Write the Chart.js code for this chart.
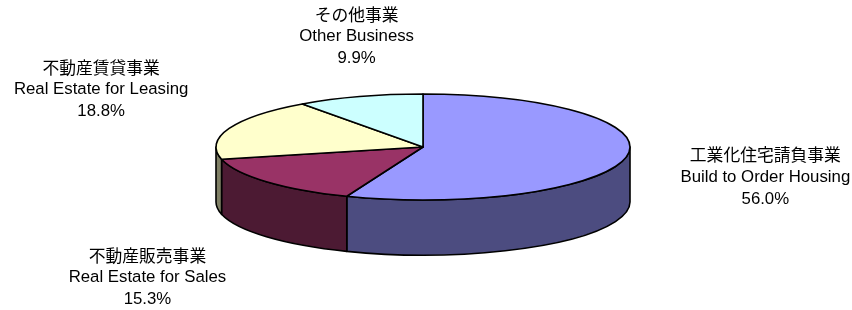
<!DOCTYPE html>
<html>
<head>
<meta charset="utf-8">
<script src="https://cdn.jsdelivr.net/npm/chart.js@4.4.1/dist/chart.umd.min.js"></script>
<style>
  html, body { margin: 0; padding: 0; background: #fff; }
  #wrap { width: 852px; height: 310px; position: relative; }
</style>
</head>
<body>
<div id="wrap"><canvas id="pieChart"></canvas></div>
<script>
// ===== Data =====
const labelsJa = ['工業化住宅請負事業', '不動産販売事業', '不動産賃貸事業', 'その他事業'];
const labelsEn = ['Build to Order Housing', 'Real Estate for Sales', 'Real Estate for Leasing', 'Other Business'];
const shares = [56.0, 15.3, 18.8, 9.9];

// ===== Style =====
const topColors = ['#9999FF', '#993366', '#FFFFCC', '#CCFFFF'];
const sideColors = ['#4C4C80', '#4C1A33', '#808066', '#668080'];
// label offset from the slice's mid-angle rim point to the label's middle line
const labelOffsets = [[139, 20], [-119, 96], [-128, -39], [-3, -60]];
const depthRatio = 1.04; // wall height relative to vertical radius
const latinFont = '16.8px "Liberation Sans", Arial, sans-serif';
const cjkFont = '16.8px "Noto Sans CJK JP", sans-serif';
const lineGap = 22;

// ===== 3D pie plugin =====
const pie3d = {
  id: 'pie3d',
  beforeDatasetsDraw(chart) {
    const ctx = chart.ctx;
    const meta = chart.getDatasetMeta(0);
    const area = chart.chartArea;
    const arcs = meta.data;
    if (!arcs.length) return false;
    const cx = arcs[0].x;
    const cy = arcs[0].y;
    const ry = arcs[0].outerRadius;
    const rx = (area.right - area.left) / 2;
    const depth = ry * depthRatio;

    ctx.save();
    ctx.lineWidth = 1.6;
    ctx.strokeStyle = '#000';
    ctx.lineJoin = 'round';

    // front walls (visible half: angle 0..PI)
    arcs.forEach((arc, i) => {
      const s = Math.max(arc.startAngle, 0);
      const e = Math.min(arc.endAngle, Math.PI);
      if (e <= s) return;
      ctx.beginPath();
      ctx.ellipse(cx, cy, rx, ry, 0, s, e, false);
      ctx.lineTo(cx + rx * Math.cos(e), cy + depth + ry * Math.sin(e));
      ctx.ellipse(cx, cy + depth, rx, ry, 0, e, s, true);
      ctx.closePath();
      ctx.fillStyle = sideColors[i];
      ctx.fill();
      ctx.stroke();
    });

    // top face
    arcs.forEach((arc, i) => {
      ctx.beginPath();
      ctx.moveTo(cx, cy);
      ctx.ellipse(cx, cy, rx, ry, 0, arc.startAngle, arc.endAngle, false);
      ctx.closePath();
      ctx.fillStyle = topColors[i];
      ctx.fill();
      ctx.stroke();
    });

    // labels
    ctx.fillStyle = '#000';
    ctx.textAlign = 'center';
    ctx.textBaseline = 'middle';
    arcs.forEach((arc, i) => {
      const mid = (arc.startAngle + arc.endAngle) / 2;
      const x = cx + rx * Math.cos(mid) + labelOffsets[i][0];
      const y = cy + ry * Math.sin(mid) + labelOffsets[i][1];
      ctx.font = cjkFont;
      ctx.fillText(labelsJa[i], x, y - lineGap);
      ctx.font = latinFont;
      ctx.fillText(labelsEn[i], x, y);
      ctx.fillText(shares[i].toFixed(1) + '%', x, y + lineGap);
    });

    ctx.restore();
    return false; // skip default flat drawing
  }
};

// ===== Chart =====
const chart = new Chart(document.getElementById('pieChart').getContext('2d'), {
  type: 'pie',
  data: {
    labels: labelsEn,
    datasets: [{
      data: shares,
      backgroundColor: topColors,
      borderWidth: 0
    }]
  },
  options: {
    responsive: true,
    maintainAspectRatio: false,
    animation: false,
    layout: { padding: { left: 216, right: 222, top: 94, bottom: 110 } },
    plugins: {
      legend: { display: false },
      tooltip: { enabled: false }
    }
  },
  plugins: [pie3d]
});
</script>
</body>
</html>
